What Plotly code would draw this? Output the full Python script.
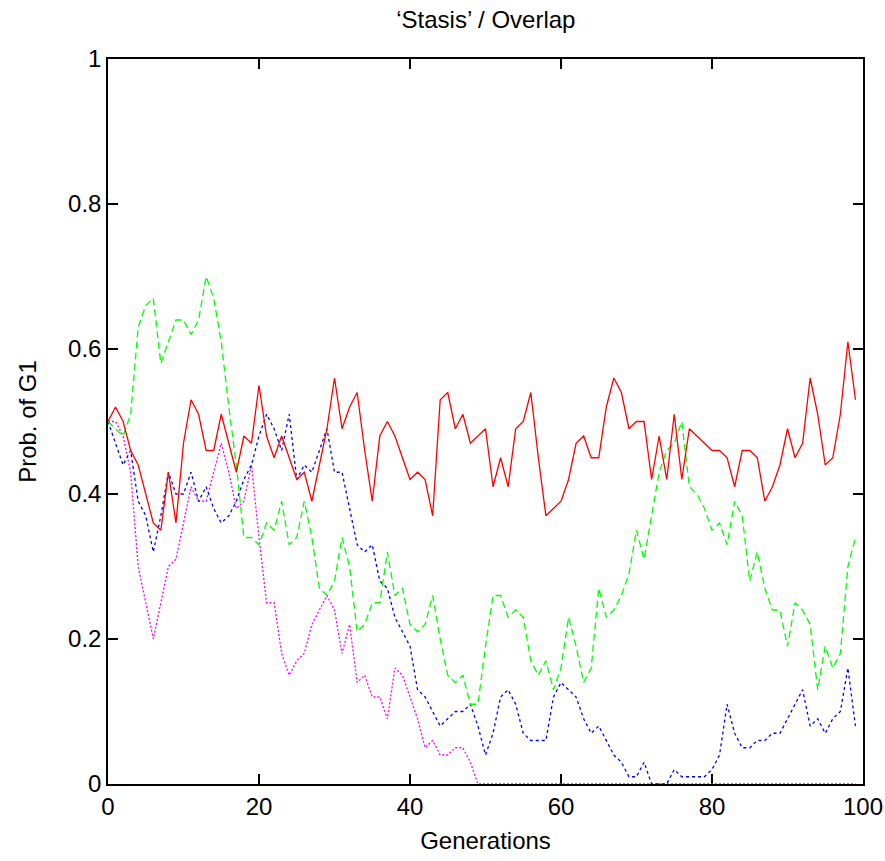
import plotly.graph_objects as go

# Generation index
generations = list(range(100))

# Probability of G1 for each of the four runs
run_solid = [0.50, 0.52, 0.50, 0.46, 0.44, 0.40, 0.36, 0.35, 0.43, 0.36,
             0.47, 0.53, 0.51, 0.46, 0.46, 0.51, 0.47, 0.43, 0.48, 0.47,
             0.55, 0.48, 0.45, 0.48, 0.45, 0.42, 0.43, 0.39, 0.44, 0.49,
             0.56, 0.49, 0.52, 0.54, 0.46, 0.39, 0.48, 0.50, 0.48, 0.45,
             0.42, 0.43, 0.42, 0.37, 0.53, 0.54, 0.49, 0.51, 0.47, 0.48,
             0.49, 0.41, 0.45, 0.41, 0.49, 0.50, 0.54, 0.45, 0.37, 0.38,
             0.39, 0.42, 0.47, 0.48, 0.45, 0.45, 0.52, 0.56, 0.54, 0.49,
             0.50, 0.50, 0.42, 0.48, 0.42, 0.51, 0.42, 0.49, 0.48, 0.47,
             0.46, 0.46, 0.45, 0.41, 0.46, 0.46, 0.45, 0.39, 0.41, 0.44,
             0.49, 0.45, 0.47, 0.56, 0.51, 0.44, 0.45, 0.51, 0.61, 0.53]

run_dashed = [0.50, 0.49, 0.48, 0.51, 0.63, 0.66, 0.67, 0.58, 0.61, 0.64,
              0.64, 0.62, 0.64, 0.70, 0.67, 0.61, 0.52, 0.44, 0.34, 0.34,
              0.33, 0.36, 0.35, 0.39, 0.33, 0.34, 0.39, 0.34, 0.27, 0.26,
              0.28, 0.34, 0.30, 0.21, 0.22, 0.25, 0.25, 0.32, 0.26, 0.27,
              0.22, 0.21, 0.22, 0.26, 0.20, 0.15, 0.14, 0.15, 0.11, 0.11,
              0.19, 0.26, 0.26, 0.23, 0.24, 0.23, 0.17, 0.15, 0.17, 0.13,
              0.16, 0.23, 0.19, 0.14, 0.16, 0.27, 0.23, 0.24, 0.26, 0.29,
              0.35, 0.31, 0.37, 0.43, 0.46, 0.47, 0.50, 0.41, 0.40, 0.38,
              0.35, 0.36, 0.33, 0.39, 0.37, 0.28, 0.32, 0.27, 0.24, 0.24,
              0.19, 0.25, 0.24, 0.22, 0.13, 0.19, 0.16, 0.18, 0.30, 0.34]

run_short_dash = [0.50, 0.47, 0.44, 0.46, 0.39, 0.37, 0.32, 0.37, 0.43, 0.40,
                  0.40, 0.43, 0.39, 0.41, 0.38, 0.36, 0.37, 0.39, 0.42, 0.44,
                  0.48, 0.51, 0.49, 0.46, 0.51, 0.42, 0.44, 0.43, 0.46, 0.49,
                  0.43, 0.43, 0.38, 0.33, 0.32, 0.33, 0.28, 0.27, 0.23, 0.21,
                  0.19, 0.13, 0.12, 0.10, 0.08, 0.09, 0.10, 0.10, 0.11, 0.08,
                  0.04, 0.07, 0.12, 0.13, 0.11, 0.07, 0.06, 0.06, 0.06, 0.12,
                  0.14, 0.13, 0.12, 0.09, 0.07, 0.08, 0.06, 0.04, 0.03, 0.01,
                  0.01, 0.03, 0.00, 0.00, 0.00, 0.02, 0.01, 0.01, 0.01, 0.01,
                  0.02, 0.04, 0.11, 0.07, 0.05, 0.05, 0.06, 0.06, 0.07, 0.07,
                  0.09, 0.11, 0.13, 0.08, 0.09, 0.07, 0.09, 0.10, 0.16, 0.08]

run_dotted = [0.50, 0.50, 0.48, 0.43, 0.30, 0.25, 0.20, 0.25, 0.30, 0.31,
              0.36, 0.41, 0.39, 0.39, 0.43, 0.47, 0.43, 0.38, 0.39, 0.44,
              0.34, 0.25, 0.25, 0.18, 0.15, 0.17, 0.18, 0.22, 0.24, 0.26,
              0.24, 0.18, 0.22, 0.14, 0.15, 0.12, 0.12, 0.09, 0.16, 0.15,
              0.12, 0.09, 0.05, 0.06, 0.04, 0.04, 0.05, 0.05, 0.03, 0.00,
              0.00, 0.00, 0.00, 0.00, 0.00, 0.00, 0.00, 0.00, 0.00, 0.00,
              0.00, 0.00, 0.00, 0.00, 0.00, 0.00, 0.00, 0.00, 0.00, 0.00,
              0.00, 0.00, 0.00, 0.00, 0.00, 0.00, 0.00, 0.00, 0.00, 0.00,
              0.00, 0.00, 0.00, 0.00, 0.00, 0.00, 0.00, 0.00, 0.00, 0.00,
              0.00, 0.00, 0.00, 0.00, 0.00, 0.00, 0.00, 0.00, 0.00, 0.00]

x_ticks = [0, 20, 40, 60, 80, 100]
y_ticks = [0, 0.2, 0.4, 0.6, 0.8, 1]
y_tick_labels = ["0", "0.2", "0.4", "0.6", "0.8", "1"]

FONT = "Liberation Sans, Arial, sans-serif"
FONT_SIZE = 24

fig = go.Figure()

series = [
    (run_dotted, "#ff00ff", "2px,2px"),
    (run_short_dash, "#0000ff", "3px,3px"),
    (run_dashed, "#00ff00", "7px,4px"),
    (run_solid, "#ff0000", "solid"),
]
for values, color, dash in series:
    fig.add_trace(go.Scatter(
        x=generations, y=values, mode="lines",
        line=dict(color=color, width=1.3, dash=dash),
        showlegend=False, hoverinfo="skip",
    ))

axis_common = dict(
    showline=True, linecolor="black", linewidth=1.5,
    mirror="ticks", ticks="inside", ticklen=10, tickwidth=1.5,
    tickcolor="black", showgrid=False, zeroline=False,
    tickfont=dict(family=FONT, size=FONT_SIZE, color="black"),
    layer="below traces", automargin=False, ticklabeloverflow="allow",
)

fig.update_layout(
    width=885, height=861,
    margin=dict(l=108, r=22, t=59, b=77),
    paper_bgcolor="white", plot_bgcolor="white",
    title=dict(text="‘Stasis’ / Overlap", x=0.549, xanchor="center",
               y=0.977, yanchor="middle",
               font=dict(family=FONT, size=FONT_SIZE, color="black")),
    xaxis=dict(range=[0, 100], tickvals=x_ticks,
               title=dict(text="Generations", standoff=14,
                          font=dict(family=FONT, size=FONT_SIZE, color="black")),
               **axis_common),
    yaxis=dict(range=[0, 1], tickvals=y_ticks, ticktext=y_tick_labels,
               title=dict(text="Prob. of G1", standoff=25,
                          font=dict(family=FONT, size=FONT_SIZE, color="black")),
               **axis_common),
)

fig.write_html("out.html")
